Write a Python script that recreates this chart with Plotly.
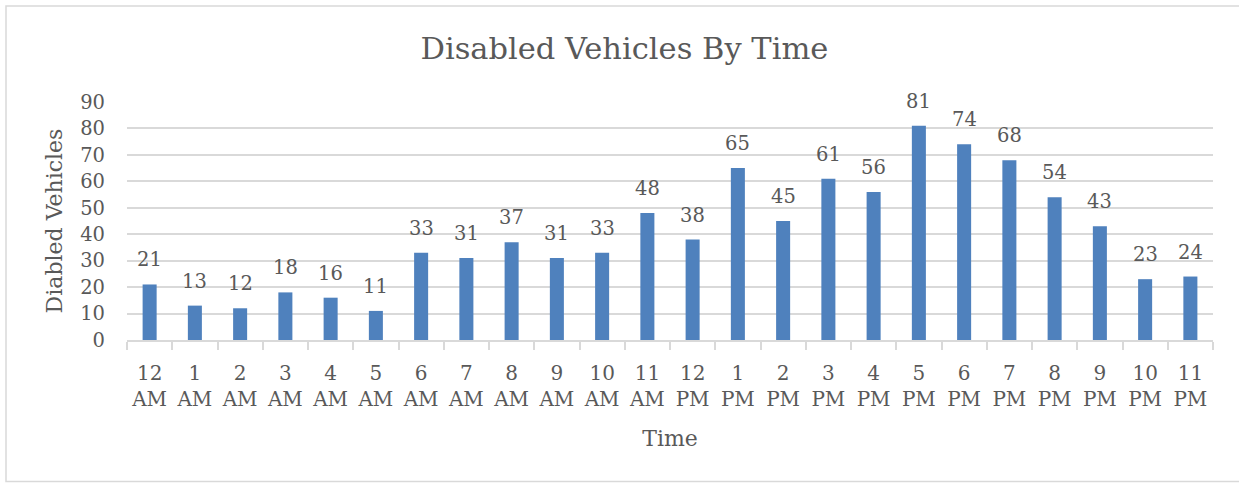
import plotly.graph_objects as go

# Hour-of-day categories (two-line tick labels)
hours = ["12<br>AM", "1<br>AM", "2<br>AM", "3<br>AM", "4<br>AM", "5<br>AM",
         "6<br>AM", "7<br>AM", "8<br>AM", "9<br>AM", "10<br>AM", "11<br>AM",
         "12<br>PM", "1<br>PM", "2<br>PM", "3<br>PM", "4<br>PM", "5<br>PM",
         "6<br>PM", "7<br>PM", "8<br>PM", "9<br>PM", "10<br>PM", "11<br>PM"]

# Number of disabled vehicles per hour
counts = [21, 13, 12, 18, 16, 11, 33, 31, 37, 31, 33, 48,
          38, 65, 45, 61, 56, 81, 74, 68, 54, 43, 23, 24]

y_ticks = [0, 10, 20, 30, 40, 50, 60, 70, 80, 90]

FONT = "DejaVu Serif"
TEXT = "#595959"
GRID = "#D9D9D9"
BAR = "#4F81BD"

W, H = 1239, 483
ML, MR, MT, MB = 127, 26, 102, 143

fig = go.Figure(
    go.Bar(
        x=hours,
        y=counts,
        marker=dict(color=BAR, line=dict(width=0)),
        hoverinfo="x+y",
    )
)

# value labels above each bar
for h, c in zip(hours, counts):
    fig.add_annotation(
        x=h, y=c, text=str(c), showarrow=False,
        yanchor="bottom", yshift=11,
        font=dict(family=FONT, size=19.5, color=TEXT),
    )

# light frame around the chart area
pw = W - ML - MR
ph = H - MT - MB
fig.add_shape(
    type="rect", xref="paper", yref="paper",
    x0=(6 - ML) / pw, x1=(W + 10 - ML) / pw,
    y0=(H - MB - 481.5) / ph, y1=(H - MB - 6) / ph,
    line=dict(color=GRID, width=1.5), fillcolor="rgba(0,0,0,0)",
    layer="below",
)

fig.update_layout(
    width=W, height=H,
    margin=dict(l=ML, r=MR, t=MT, b=MB, pad=0),
    paper_bgcolor="white", plot_bgcolor="white",
    bargap=0.69,
    showlegend=False,
    font=dict(family=FONT, color=TEXT),
    title=dict(
        text="Disabled Vehicles By Time",
        xref="container", yref="container",
        x=0.504, y=1 - 48 / H, xanchor="center", yanchor="middle",
        font=dict(family=FONT, size=30.5, color=TEXT),
    ),
    xaxis=dict(
        type="category",
        showgrid=False,
        showline=True, linecolor=GRID, linewidth=1.5,
        ticks="outside", tickson="boundaries", ticklen=8, tickcolor=GRID, tickwidth=1.5,
        tickangle=0,
        tickfont=dict(family=FONT, size=20, color=TEXT),
        ticklabelstandoff=14,
        title=dict(text="Time", standoff=21,
                   font=dict(family=FONT, size=22, color=TEXT)),
    ),
    yaxis=dict(
        range=[0, 90],
        tickvals=y_ticks,
        showgrid=True, gridcolor=GRID, gridwidth=1.5,
        zeroline=False, showline=False,
        ticks="",
        tickfont=dict(family=FONT, size=19.5, color=TEXT),
        ticklabelstandoff=21,
        title=dict(text="Diabled Vehicles", standoff=11,
                   font=dict(family=FONT, size=22, color=TEXT)),
    ),
)

fig.write_html("out.html")
